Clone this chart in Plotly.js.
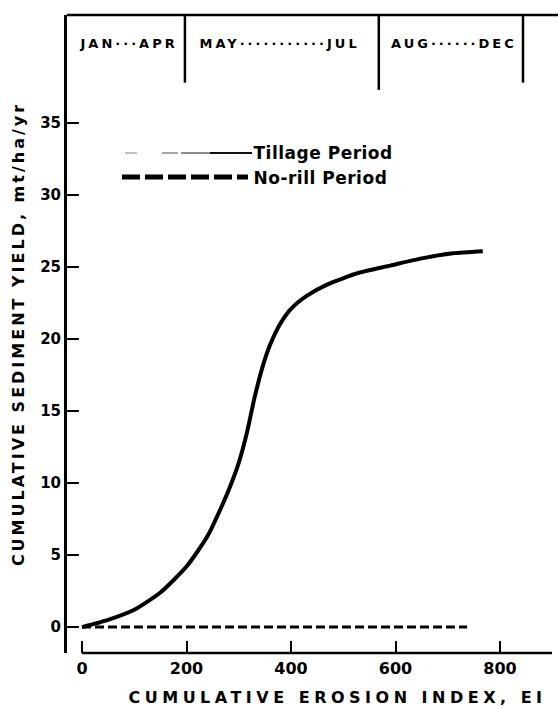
<!DOCTYPE html>
<html>
<head>
<meta charset="utf-8">
<script src="https://cdn.plot.ly/plotly-3.0.1.min.js"></script>
<style>
  html, body { margin: 0; padding: 0; background: #fff; }
  #chart { width: 558px; height: 707px; }
  .xtitle { letter-spacing: 4.5px; transform: translate(28px, 4px); }
  .ytitle { letter-spacing: 3px; }
  .xtick text, .ytick text, .xtick tspan, .ytick tspan { font-weight: 700 !important; }
  g.annotation[data-index="0"] text,
  g.annotation[data-index="1"] text,
  g.annotation[data-index="2"] text { letter-spacing: 3px; }
  g.annotation[data-index="3"] text,
  g.annotation[data-index="4"] text { letter-spacing: 0.5px; }
</style>
</head>
<body>
<div id="chart"></div>
<script>
// ---- data ----
const erosionIndex = [0, 50, 100, 150, 200, 240, 270, 285, 300, 315, 330, 345, 360, 380, 400, 430, 470, 530, 590, 650, 710, 767];
const tillageYield = [0, 0.5, 1.2, 2.4, 4.2, 6.3, 8.6, 9.9, 11.4, 13.4, 15.9, 18.0, 19.6, 21.1, 22.1, 23.0, 23.8, 24.6, 25.1, 25.6, 25.95, 26.1];
const noRillIndex = [0, 737];
const noRillYield = [0, 0];
const periodLabels = ["JAN\u00b7\u00b7\u00b7APR", "MAY\u00b7\u00b7\u00b7\u00b7\u00b7\u00b7\u00b7\u00b7\u00b7\u00b7\u00b7JUL", "AUG\u00b7\u00b7\u00b7\u00b7\u00b7\u00b7DEC"];
const periodEnds = [197, 568, 844];
const legendLabels = ["Tillage Period", "No-rill Period"];
const xTicks = [0, 200, 400, 600, 800];
const yTicks = [0, 5, 10, 15, 20, 25, 30, 35];

// ---- layout helpers (pixel -> paper) ----
const L = 67, R = 6, T = 15, B = 54, W = 558, H = 707;
const PW = W - L - R, PH = H - T - B;
const px = v => (v - L) / PW;
const py = v => (H - B - v) / PH;

const bold = {family: "DejaVu Sans", weight: "bold", color: "#000"};

const traces = [
  {x: erosionIndex, y: tillageYield, type: "scatter", mode: "lines",
   name: legendLabels[0], line: {color: "#000", width: 4, shape: "spline", smoothing: 0.6}},
  {x: noRillIndex, y: noRillYield, type: "scatter", mode: "lines",
   name: legendLabels[1], line: {color: "#000", width: 3, dash: "9px,4px"}}
];

const shapes = [
  {type: "line", xref: "x", yref: "paper", x0: 0, x1: 899.5, y0: 0, y1: 0,
   line: {color: "#000", width: 2.5}},
  {type: "line", xref: "paper", yref: "paper", x0: 0, x1: 1.02, y0: 1, y1: 1,
   line: {color: "#000", width: 2.5}},
  {type: "line", xref: "paper", yref: "paper", x0: px(125), x1: px(137), y0: py(153), y1: py(153), line: {color: "#aaa", width: 1.5}},
  {type: "line", xref: "paper", yref: "paper", x0: px(162), x1: px(178), y0: py(153), y1: py(153), line: {color: "#888", width: 1.5}},
  {type: "line", xref: "paper", yref: "paper", x0: px(181), x1: px(210), y0: py(153), y1: py(153), line: {color: "#666", width: 1.5}},
  {type: "line", xref: "paper", yref: "paper", x0: px(210), x1: px(252), y0: py(153), y1: py(153), line: {color: "#111", width: 2}},
  {type: "line", xref: "paper", yref: "paper", x0: px(122), x1: px(248), y0: py(177), y1: py(177), line: {color: "#000", width: 5, dash: "18px,5px"}}
];
const dividerBottom = [37.8, 37.3, 37.8];
periodEnds.forEach((e, i) => {
  shapes.push({type: "line", xref: "x", yref: "paper", x0: e, x1: e, y0: py(627 - dividerBottom[i] * 14.4), y1: 1,
               line: {color: "#000", width: 2.5}});
});

const periodCenters = [128, 279, 453.5];
const annotations = periodLabels.map((t, i) => ({
  text: t, xref: "paper", yref: "paper", x: px(periodCenters[i]), y: py(43),
  xanchor: "center", yanchor: "middle", showarrow: false,
  font: Object.assign({size: 13}, bold)
}));
legendLabels.forEach((t, i) => {
  annotations.push({text: t, xref: "paper", yref: "paper", x: px(255), y: py(i === 0 ? 153 : 178),
    xanchor: "left", yanchor: "middle", showarrow: false,
    font: Object.assign({size: 17}, bold)});
});

const layout = {
  width: W, height: H,
  margin: {l: L, r: R, t: T, b: B, pad: 0},
  paper_bgcolor: "#fff", plot_bgcolor: "#fff",
  showlegend: false,
  xaxis: {
    range: [-28.7, 899.5], tickvals: xTicks, ticktext: xTicks.map(String),
    ticks: "inside", ticklen: 12, tickwidth: 2, tickcolor: "#000",
    showline: false, showgrid: false, zeroline: false,
    tickfont: {family: "DejaVu Sans", weight: 700, size: 16, color: "#000"},
    ticklabelstandoff: 4,
    title: {text: "CUMULATIVE EROSION INDEX, EI", standoff: 10,
            font: {family: "DejaVu Sans", weight: "bold", size: 16, color: "#000"}}
  },
  yaxis: {
    range: [-1.8, 42.5], tickvals: yTicks, ticktext: yTicks.map(String),
    ticks: "inside", ticklen: 12, tickwidth: 2, tickcolor: "#000",
    showline: true, linewidth: 3, linecolor: "#000",
    showgrid: false, zeroline: false,
    tickfont: {family: "DejaVu Sans", weight: 700, size: 15, color: "#000"},
    ticklabelstandoff: 0,
    title: {text: "CUMULATIVE SEDIMENT YIELD, mt/ha/yr", standoff: 12,
            font: {family: "DejaVu Sans", weight: "bold", size: 16, color: "#000"}}
  },
  shapes: shapes,
  annotations: annotations
};

Plotly.newPlot("chart", traces, layout, {staticPlot: true, displayModeBar: false});
</script>
</body>
</html>
